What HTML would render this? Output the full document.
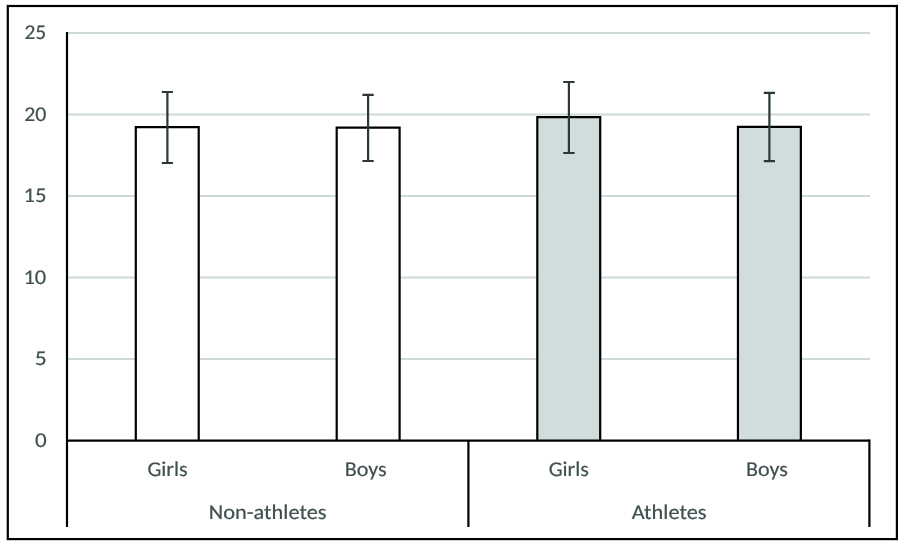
<!DOCTYPE html>
<html>
<head>
<meta charset="utf-8">
<style>
html,body{margin:0;padding:0;background:#fff;}
body{width:905px;height:547px;overflow:hidden;}
svg{display:block;will-change:transform;}
text{font-family:Carlito,"Liberation Sans",sans-serif;font-size:21px;fill:#405050;stroke:#405050;stroke-width:0.2px;text-rendering:geometricPrecision;}
</style>
</head>
<body>
<svg width="905" height="547" viewBox="0 0 905 547">
<rect x="0" y="0" width="905" height="547" fill="#fff"/>
<!-- outer chart border -->
<rect x="7.8" y="6" width="889.1" height="533.1" fill="none" stroke="#000" stroke-width="2.2"/>
<!-- gridlines -->
<g stroke="#CDDAD7" stroke-width="2">
<line x1="68" y1="33" x2="870" y2="33"/>
<line x1="68" y1="114.5" x2="870" y2="114.5"/>
<line x1="68" y1="196" x2="870" y2="196"/>
<line x1="68" y1="277.4" x2="870" y2="277.4"/>
<line x1="68" y1="358.9" x2="870" y2="358.9"/>
</g>
<!-- y labels -->
<g text-anchor="end">
<text x="46.1" y="39.1" textLength="21.7" lengthAdjust="spacingAndGlyphs">25</text>
<text x="46.45" y="120.7" textLength="22.2" lengthAdjust="spacingAndGlyphs">20</text>
<text x="46.5" y="202.2" textLength="22.9" lengthAdjust="spacingAndGlyphs">15</text>
<text x="46.2" y="283.7" textLength="22.8" lengthAdjust="spacingAndGlyphs">10</text>
<text x="46.7" y="365.1" textLength="11.95" lengthAdjust="spacingAndGlyphs">5</text>
<text x="46.8" y="446.7" textLength="11.7" lengthAdjust="spacingAndGlyphs">0</text>
</g>
<!-- bars -->
<rect x="135.8" y="127.1" width="62.9" height="313.5" fill="#fff"/>
<rect x="336.7" y="127.6" width="62.9" height="313.0" fill="#fff"/>
<rect x="537.3" y="117.2" width="62.9" height="323.4" fill="#D1DCDC"/>
<rect x="737.95" y="126.9" width="62.9" height="313.7" fill="#D1DCDC"/>
<g stroke="#000" stroke-width="2.2" fill="none" stroke-linejoin="miter">
<path d="M135.8 440.6 V127.1 H198.7 V440.6"/>
<path d="M336.7 440.6 V127.6 H399.6 V440.6"/>
<path d="M537.3 440.6 V117.2 H600.2 V440.6"/>
<path d="M737.95 440.6 V126.9 H800.85 V440.6"/>
</g>
<!-- error bars -->
<g stroke="#2B3838" stroke-width="2.2" fill="none">
<path d="M167.4 92 V163 M161.8 92 H172.9 M161.8 163 H172.9"/>
<path d="M368.1 94.8 V161 M362.4 94.8 H373.7 M362.4 161 H373.7"/>
<path d="M568.9 82 V153 M563.2 82 H574.6 M563.2 153 H574.6"/>
<path d="M769.4 92.8 V161.2 M763.8 92.8 H775 M763.8 161.2 H775"/>
</g>
<!-- axes -->
<g stroke="#000" stroke-width="2.2" fill="none">
<line x1="67" y1="32" x2="67" y2="527"/>
<line x1="66" y1="440.6" x2="869.5" y2="440.6"/>
<line x1="468.4" y1="440.6" x2="468.4" y2="527"/>
<line x1="869.4" y1="439.5" x2="869.4" y2="527"/>
</g>
<!-- category labels -->
<g text-anchor="middle">
<text x="167.55" y="475.5" textLength="40.3" lengthAdjust="spacingAndGlyphs">Girls</text>
<text x="365.7" y="475.5" textLength="41.9" lengthAdjust="spacingAndGlyphs">Boys</text>
<text x="568.8" y="475.5" textLength="40.3" lengthAdjust="spacingAndGlyphs">Girls</text>
<text x="766.85" y="475.5" textLength="41.9" lengthAdjust="spacingAndGlyphs">Boys</text>
<text x="267.65" y="519" textLength="117.9" lengthAdjust="spacingAndGlyphs">Non-athletes</text>
<text x="669.1" y="518.9" textLength="74.9" lengthAdjust="spacingAndGlyphs">Athletes</text>
</g>
</svg>
</body>
</html>
